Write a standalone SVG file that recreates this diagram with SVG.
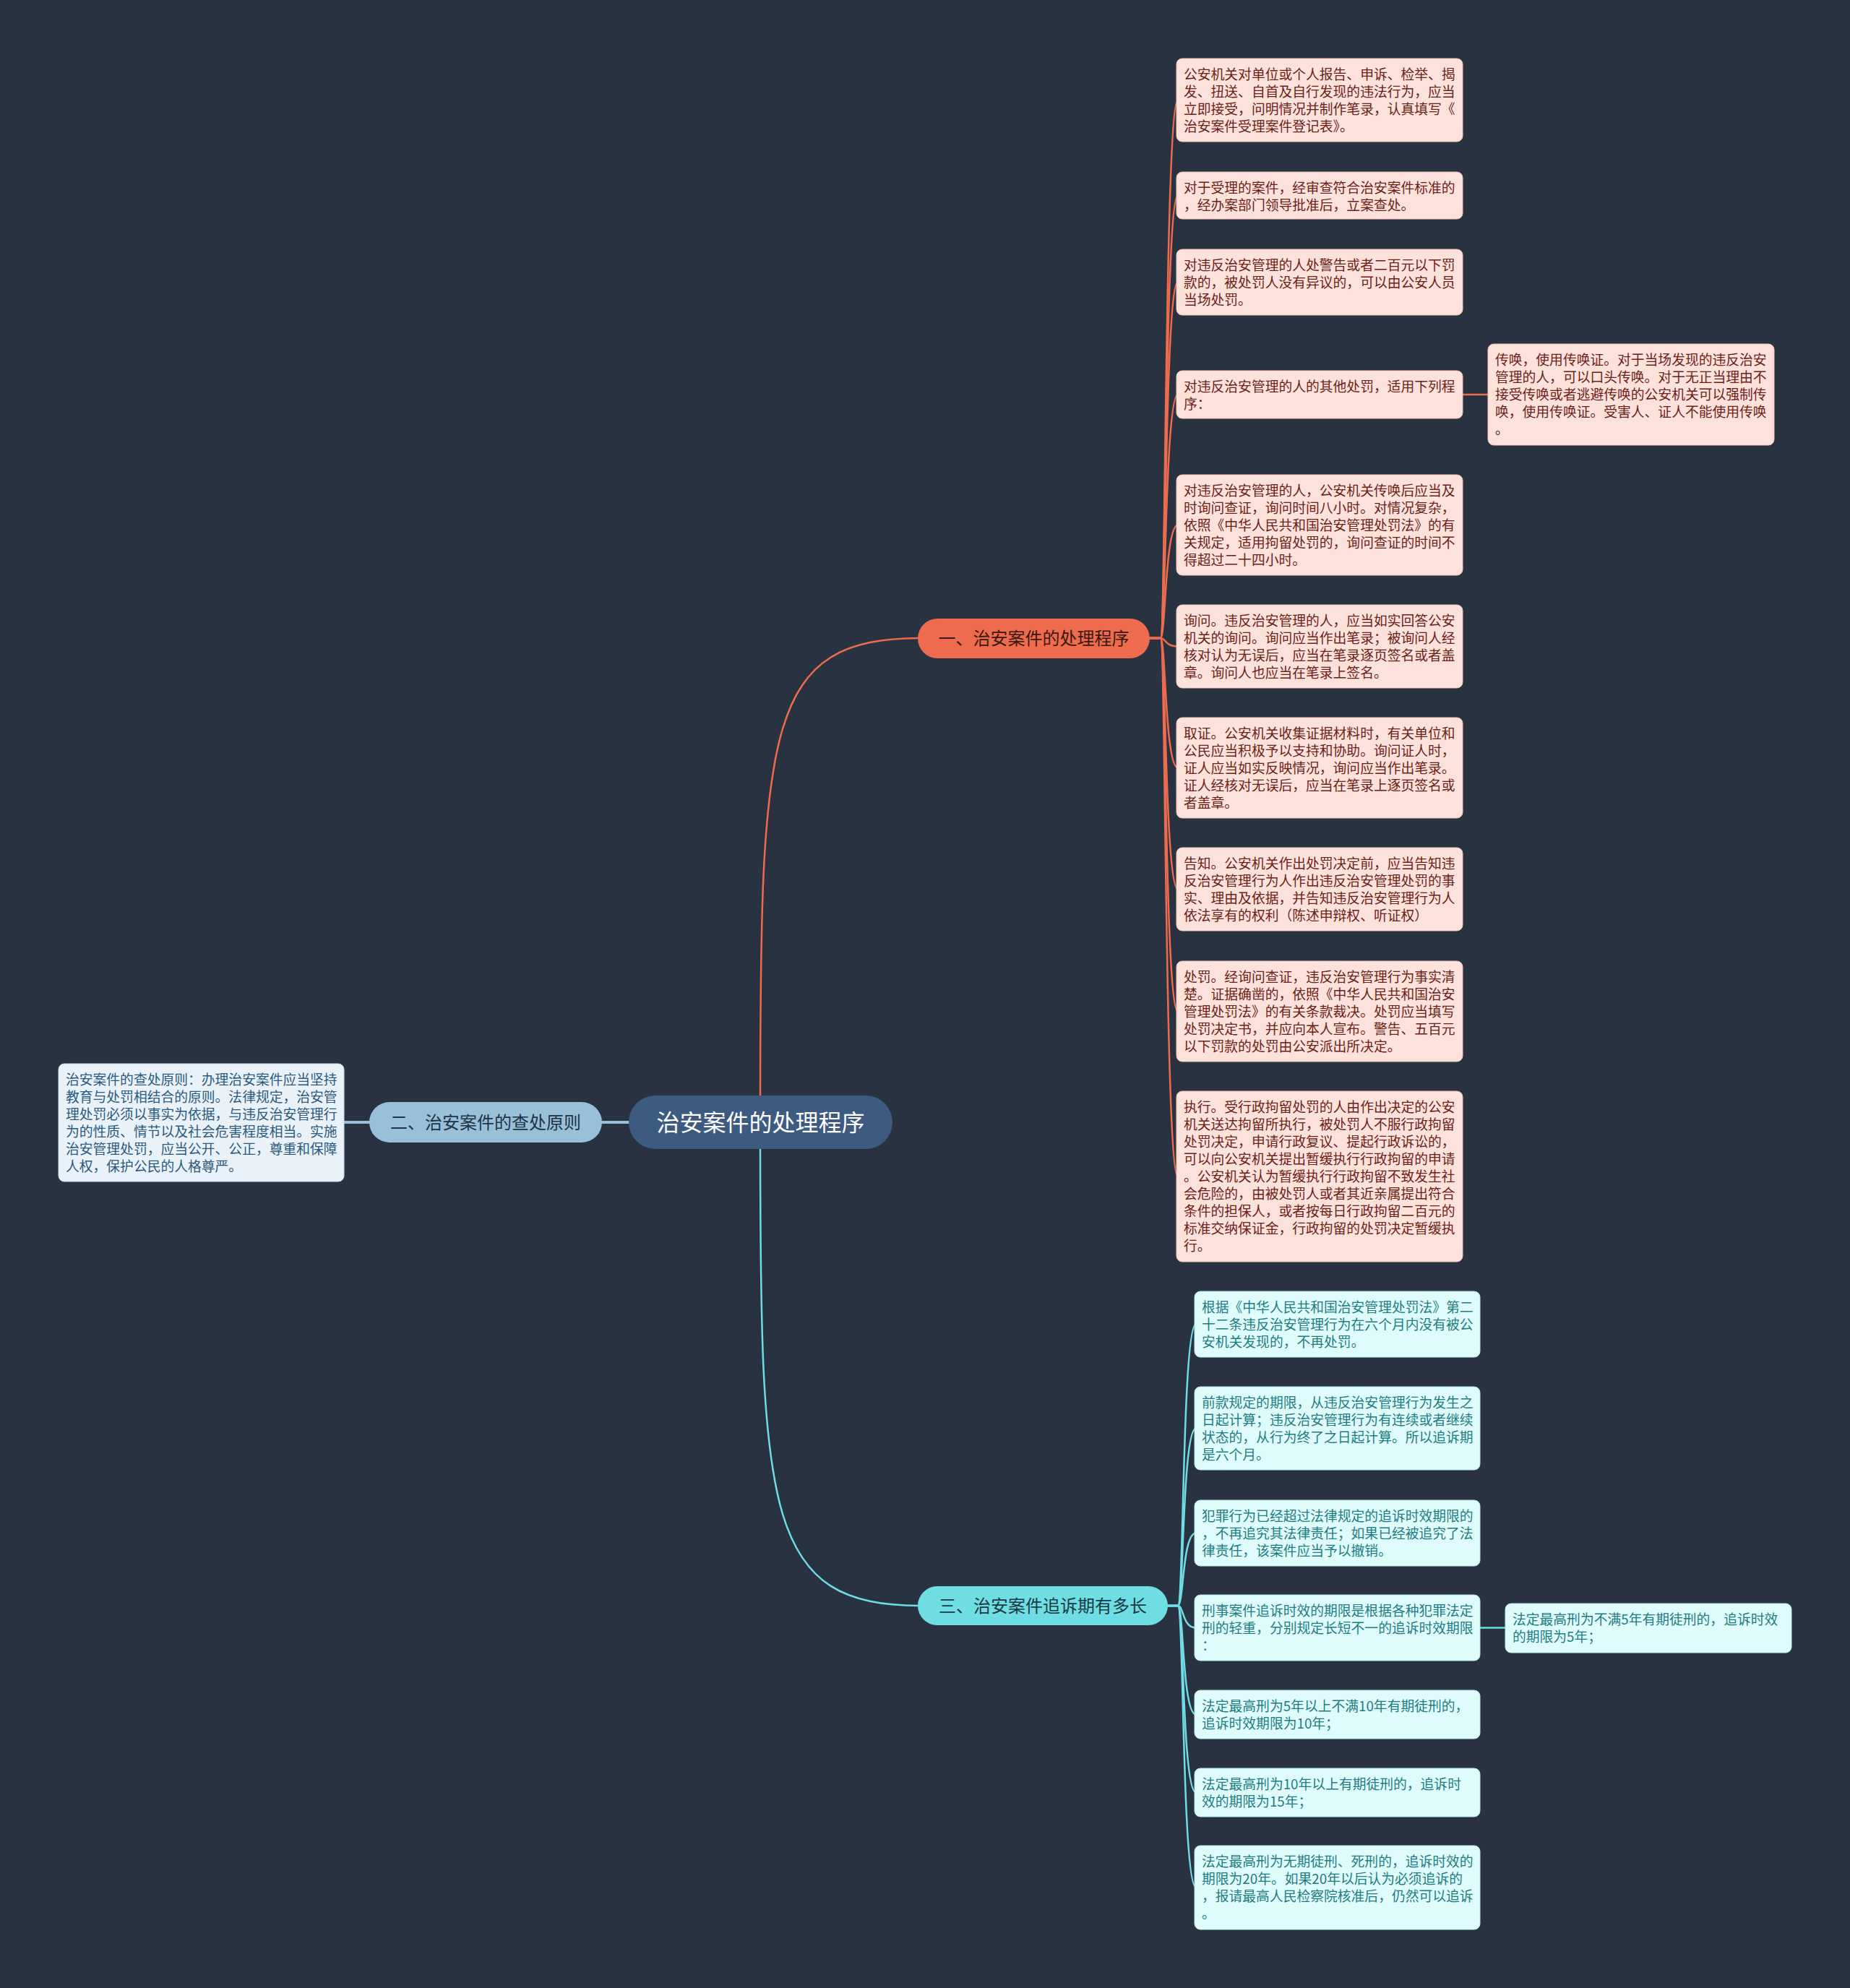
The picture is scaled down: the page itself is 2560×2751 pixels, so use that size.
<svg xmlns="http://www.w3.org/2000/svg" width="2560" height="2751" viewBox="0 0 2560 2751">
<style>
.t{font-family:"Noto Sans CJK SC","Noto Sans",sans-serif;font-size:18.8px}
.o rect{fill:#fde1db;stroke:#f3c4b8;stroke-width:1}
.o text{fill:#6b2216}
.c rect{fill:#e0fbfc;stroke:#b9e9ec;stroke-width:1}
.c text{fill:#1d7d82}
.l rect{fill:#e9f2f8;stroke:#c6dbe9;stroke-width:1}
.l text{fill:#2b5a7e}
.lo{fill:none;stroke:#ee6c4d;stroke-width:2.5}
.lc{fill:none;stroke:#6fdde4;stroke-width:2.5}
.lb{fill:none;stroke:#98c1d9;stroke-width:4}
.nt{font-family:"Noto Sans CJK SC","Noto Sans",sans-serif;text-anchor:middle}
</style>
<rect x="0" y="0" width="2560" height="2751" fill="#293241"/>
<g id="connectors">
<path class="lo" d="M1052 1540 C1052 1000 1060 883 1275 883" stroke-width="3"/>
<path class="lc" d="M1052 1570 C1052 2100 1060 2222 1275 2222" stroke-width="3"/>
<path class="lb" d="M875 1553 L828 1553"/>
<path class="lb" d="M516 1553 L470 1553" stroke-width="3"/>
<path class="lo" d="M1588 883 L1606 883 C1613 883 1612 138.5 1630 138.5"/>
<path class="lo" d="M1588 883 L1606 883 C1613 883 1612 270.5 1630 270.5"/>
<path class="lo" d="M1588 883 L1606 883 C1613 883 1612 390.5 1630 390.5"/>
<path class="lo" d="M1588 883 L1606 883 C1613 883 1612 546 1630 546"/>
<path class="lo" d="M1588 883 L1606 883 C1613 883 1612 726.5 1630 726.5"/>
<path class="lo" d="M1588 883 L1606 883 C1613 883 1612 894.5 1630 894.5"/>
<path class="lo" d="M1588 883 L1606 883 C1613 883 1612 1062.5 1630 1062.5"/>
<path class="lo" d="M1588 883 L1606 883 C1613 883 1612 1230.5 1630 1230.5"/>
<path class="lo" d="M1588 883 L1606 883 C1613 883 1612 1399.5 1630 1399.5"/>
<path class="lo" d="M1588 883 L1606 883 C1613 883 1612 1628 1630 1628"/>
<path class="lo" d="M2022 546 L2061 546"/>
<path class="lc" d="M1612 2222 L1630 2222 C1638 2222 1636 1832.5 1655 1832.5"/>
<path class="lc" d="M1612 2222 L1630 2222 C1638 2222 1636 1976.5 1655 1976.5"/>
<path class="lc" d="M1612 2222 L1630 2222 C1638 2222 1636 2121.5 1655 2121.5"/>
<path class="lc" d="M1612 2222 L1630 2222 C1638 2222 1636 2252.5 1655 2252.5"/>
<path class="lc" d="M1612 2222 L1630 2222 C1638 2222 1636 2372.5 1655 2372.5"/>
<path class="lc" d="M1612 2222 L1630 2222 C1638 2222 1636 2480.5 1655 2480.5"/>
<path class="lc" d="M1612 2222 L1630 2222 C1638 2222 1636 2611.5 1655 2611.5"/>
<path class="lc" d="M2046 2252.5 L2085 2252.5"/>
</g>
<g id="root">
<rect x="870" y="1516" width="365" height="74" rx="37" fill="#3d5a80"/>
<text class="nt" x="1052.5" y="1565" font-size="32" fill="#ffffff">治安案件的处理程序</text>
</g>
<g id="b1">
<rect x="1270" y="856" width="321" height="55" rx="27.5" fill="#ee6c4d"/>
<text class="nt" x="1430.5" y="892" font-size="24" fill="#3a1810">一、治安案件的处理程序</text>
</g>
<g id="b2">
<rect x="511" y="1525" width="322" height="56" rx="28" fill="#98c1d9"/>
<text class="nt" x="672" y="1562" font-size="24" fill="#1f3347">二、治安案件的查处原则</text>
</g>
<g id="b3">
<rect x="1270" y="2195" width="346" height="54" rx="27" fill="#6fdde4"/>
<text class="nt" x="1443" y="2231" font-size="24" fill="#173a44">三、治安案件追诉期有多长</text>
</g>
<g id="l1" class="l">
<rect x="81" y="1472" width="395" height="163" rx="8"/>
<text class="t" x="91" y="1501"><tspan x="91">治安案件的查处原则：办理治安案件应当坚持</tspan><tspan x="91" dy="24">教育与处罚相结合的原则。法律规定，治安管</tspan><tspan x="91" dy="24">理处罚必须以事实为依据，与违反治安管理行</tspan><tspan x="91" dy="24">为的性质、情节以及社会危害程度相当。实施</tspan><tspan x="91" dy="24">治安管理处罚，应当公开、公正，尊重和保障</tspan><tspan x="91" dy="24">人权，保护公民的人格尊严。</tspan></text>
</g>
<g id="o1" class="o">
<rect x="1628" y="81" width="396" height="115" rx="8"/>
<text class="t" x="1638" y="110"><tspan x="1638">公安机关对单位或个人报告、申诉、检举、揭</tspan><tspan x="1638" dy="24">发、扭送、自首及自行发现的违法行为，应当</tspan><tspan x="1638" dy="24">立即接受，问明情况并制作笔录，认真填写《</tspan><tspan x="1638" dy="24">治安案件受理案件登记表》。</tspan></text>
</g>
<g id="o2" class="o">
<rect x="1628" y="238" width="396" height="65" rx="8"/>
<text class="t" x="1638" y="267"><tspan x="1638">对于受理的案件，经审查符合治安案件标准的</tspan><tspan x="1638" dy="24">，经办案部门领导批准后，立案查处。</tspan></text>
</g>
<g id="o3" class="o">
<rect x="1628" y="345" width="396" height="91" rx="8"/>
<text class="t" x="1638" y="374"><tspan x="1638">对违反治安管理的人处警告或者二百元以下罚</tspan><tspan x="1638" dy="24">款的，被处罚人没有异议的，可以由公安人员</tspan><tspan x="1638" dy="24">当场处罚。</tspan></text>
</g>
<g id="o4" class="o">
<rect x="1628" y="513" width="396" height="66" rx="8"/>
<text class="t" x="1638" y="542"><tspan x="1638">对违反治安管理的人的其他处罚，适用下列程</tspan><tspan x="1638" dy="24">序：</tspan></text>
</g>
<g id="o4a" class="o">
<rect x="2059" y="476" width="396" height="140" rx="8"/>
<text class="t" x="2069" y="505"><tspan x="2069">传唤，使用传唤证。对于当场发现的违反治安</tspan><tspan x="2069" dy="24">管理的人，可以口头传唤。对于无正当理由不</tspan><tspan x="2069" dy="24">接受传唤或者逃避传唤的公安机关可以强制传</tspan><tspan x="2069" dy="24">唤，使用传唤证。受害人、证人不能使用传唤</tspan><tspan x="2069" dy="24">。</tspan></text>
</g>
<g id="o5" class="o">
<rect x="1628" y="657" width="396" height="139" rx="8"/>
<text class="t" x="1638" y="686"><tspan x="1638">对违反治安管理的人，公安机关传唤后应当及</tspan><tspan x="1638" dy="24">时询问查证，询问时间八小时。对情况复杂，</tspan><tspan x="1638" dy="24">依照《中华人民共和国治安管理处罚法》的有</tspan><tspan x="1638" dy="24">关规定，适用拘留处罚的，询问查证的时间不</tspan><tspan x="1638" dy="24">得超过二十四小时。</tspan></text>
</g>
<g id="o6" class="o">
<rect x="1628" y="837" width="396" height="115" rx="8"/>
<text class="t" x="1638" y="866"><tspan x="1638">询问。违反治安管理的人，应当如实回答公安</tspan><tspan x="1638" dy="24">机关的询问。询问应当作出笔录；被询问人经</tspan><tspan x="1638" dy="24">核对认为无误后，应当在笔录逐页签名或者盖</tspan><tspan x="1638" dy="24">章。询问人也应当在笔录上签名。</tspan></text>
</g>
<g id="o7" class="o">
<rect x="1628" y="993" width="396" height="139" rx="8"/>
<text class="t" x="1638" y="1022"><tspan x="1638">取证。公安机关收集证据材料时，有关单位和</tspan><tspan x="1638" dy="24">公民应当积极予以支持和协助。询问证人时，</tspan><tspan x="1638" dy="24">证人应当如实反映情况，询问应当作出笔录。</tspan><tspan x="1638" dy="24">证人经核对无误后，应当在笔录上逐页签名或</tspan><tspan x="1638" dy="24">者盖章。</tspan></text>
</g>
<g id="o8" class="o">
<rect x="1628" y="1173" width="396" height="115" rx="8"/>
<text class="t" x="1638" y="1202"><tspan x="1638">告知。公安机关作出处罚决定前，应当告知违</tspan><tspan x="1638" dy="24">反治安管理行为人作出违反治安管理处罚的事</tspan><tspan x="1638" dy="24">实、理由及依据，并告知违反治安管理行为人</tspan><tspan x="1638" dy="24">依法享有的权利（陈述申辩权、听证权）</tspan></text>
</g>
<g id="o9" class="o">
<rect x="1628" y="1330" width="396" height="139" rx="8"/>
<text class="t" x="1638" y="1359"><tspan x="1638">处罚。经询问查证，违反治安管理行为事实清</tspan><tspan x="1638" dy="24">楚。证据确凿的，依照《中华人民共和国治安</tspan><tspan x="1638" dy="24">管理处罚法》的有关条款裁决。处罚应当填写</tspan><tspan x="1638" dy="24">处罚决定书，并应向本人宣布。警告、五百元</tspan><tspan x="1638" dy="24">以下罚款的处罚由公安派出所决定。</tspan></text>
</g>
<g id="o10" class="o">
<rect x="1628" y="1510" width="396" height="236" rx="8"/>
<text class="t" x="1638" y="1539"><tspan x="1638">执行。受行政拘留处罚的人由作出决定的公安</tspan><tspan x="1638" dy="24">机关送达拘留所执行，被处罚人不服行政拘留</tspan><tspan x="1638" dy="24">处罚决定，申请行政复议、提起行政诉讼的，</tspan><tspan x="1638" dy="24">可以向公安机关提出暂缓执行行政拘留的申请</tspan><tspan x="1638" dy="24">。公安机关认为暂缓执行行政拘留不致发生社</tspan><tspan x="1638" dy="24">会危险的，由被处罚人或者其近亲属提出符合</tspan><tspan x="1638" dy="24">条件的担保人，或者按每日行政拘留二百元的</tspan><tspan x="1638" dy="24">标准交纳保证金，行政拘留的处罚决定暂缓执</tspan><tspan x="1638" dy="24">行。</tspan></text>
</g>
<g id="c1" class="c">
<rect x="1653" y="1787" width="395" height="91" rx="8"/>
<text class="t" x="1663" y="1816"><tspan x="1663">根据《中华人民共和国治安管理处罚法》第二</tspan><tspan x="1663" dy="24">十二条违反治安管理行为在六个月内没有被公</tspan><tspan x="1663" dy="24">安机关发现的，不再处罚。</tspan></text>
</g>
<g id="c2" class="c">
<rect x="1653" y="1919" width="395" height="115" rx="8"/>
<text class="t" x="1663" y="1948"><tspan x="1663">前款规定的期限，从违反治安管理行为发生之</tspan><tspan x="1663" dy="24">日起计算；违反治安管理行为有连续或者继续</tspan><tspan x="1663" dy="24">状态的，从行为终了之日起计算。所以追诉期</tspan><tspan x="1663" dy="24">是六个月。</tspan></text>
</g>
<g id="c3" class="c">
<rect x="1653" y="2076" width="395" height="91" rx="8"/>
<text class="t" x="1663" y="2105"><tspan x="1663">犯罪行为已经超过法律规定的追诉时效期限的</tspan><tspan x="1663" dy="24">，不再追究其法律责任；如果已经被追究了法</tspan><tspan x="1663" dy="24">律责任，该案件应当予以撤销。</tspan></text>
</g>
<g id="c4" class="c">
<rect x="1653" y="2207" width="395" height="91" rx="8"/>
<text class="t" x="1663" y="2236"><tspan x="1663">刑事案件追诉时效的期限是根据各种犯罪法定</tspan><tspan x="1663" dy="24">刑的轻重，分别规定长短不一的追诉时效期限</tspan><tspan x="1663" dy="24">：</tspan></text>
</g>
<g id="c4a" class="c">
<rect x="2083" y="2219" width="396" height="68" rx="8"/>
<text class="t" x="2093" y="2248"><tspan x="2093">法定最高刑为不满5年有期徒刑的，追诉时效</tspan><tspan x="2093" dy="24">的期限为5年；</tspan></text>
</g>
<g id="c5" class="c">
<rect x="1653" y="2339" width="395" height="67" rx="8"/>
<text class="t" x="1663" y="2368"><tspan x="1663">法定最高刑为5年以上不满10年有期徒刑的，</tspan><tspan x="1663" dy="24">追诉时效期限为10年；</tspan></text>
</g>
<g id="c6" class="c">
<rect x="1653" y="2447" width="395" height="67" rx="8"/>
<text class="t" x="1663" y="2476"><tspan x="1663">法定最高刑为10年以上有期徒刑的，追诉时</tspan><tspan x="1663" dy="24">效的期限为15年；</tspan></text>
</g>
<g id="c7" class="c">
<rect x="1653" y="2554" width="395" height="116" rx="8"/>
<text class="t" x="1663" y="2583"><tspan x="1663">法定最高刑为无期徒刑、死刑的，追诉时效的</tspan><tspan x="1663" dy="24">期限为20年。如果20年以后认为必须追诉的</tspan><tspan x="1663" dy="24">，报请最高人民检察院核准后，仍然可以追诉</tspan><tspan x="1663" dy="24">。</tspan></text>
</g>
</svg>
